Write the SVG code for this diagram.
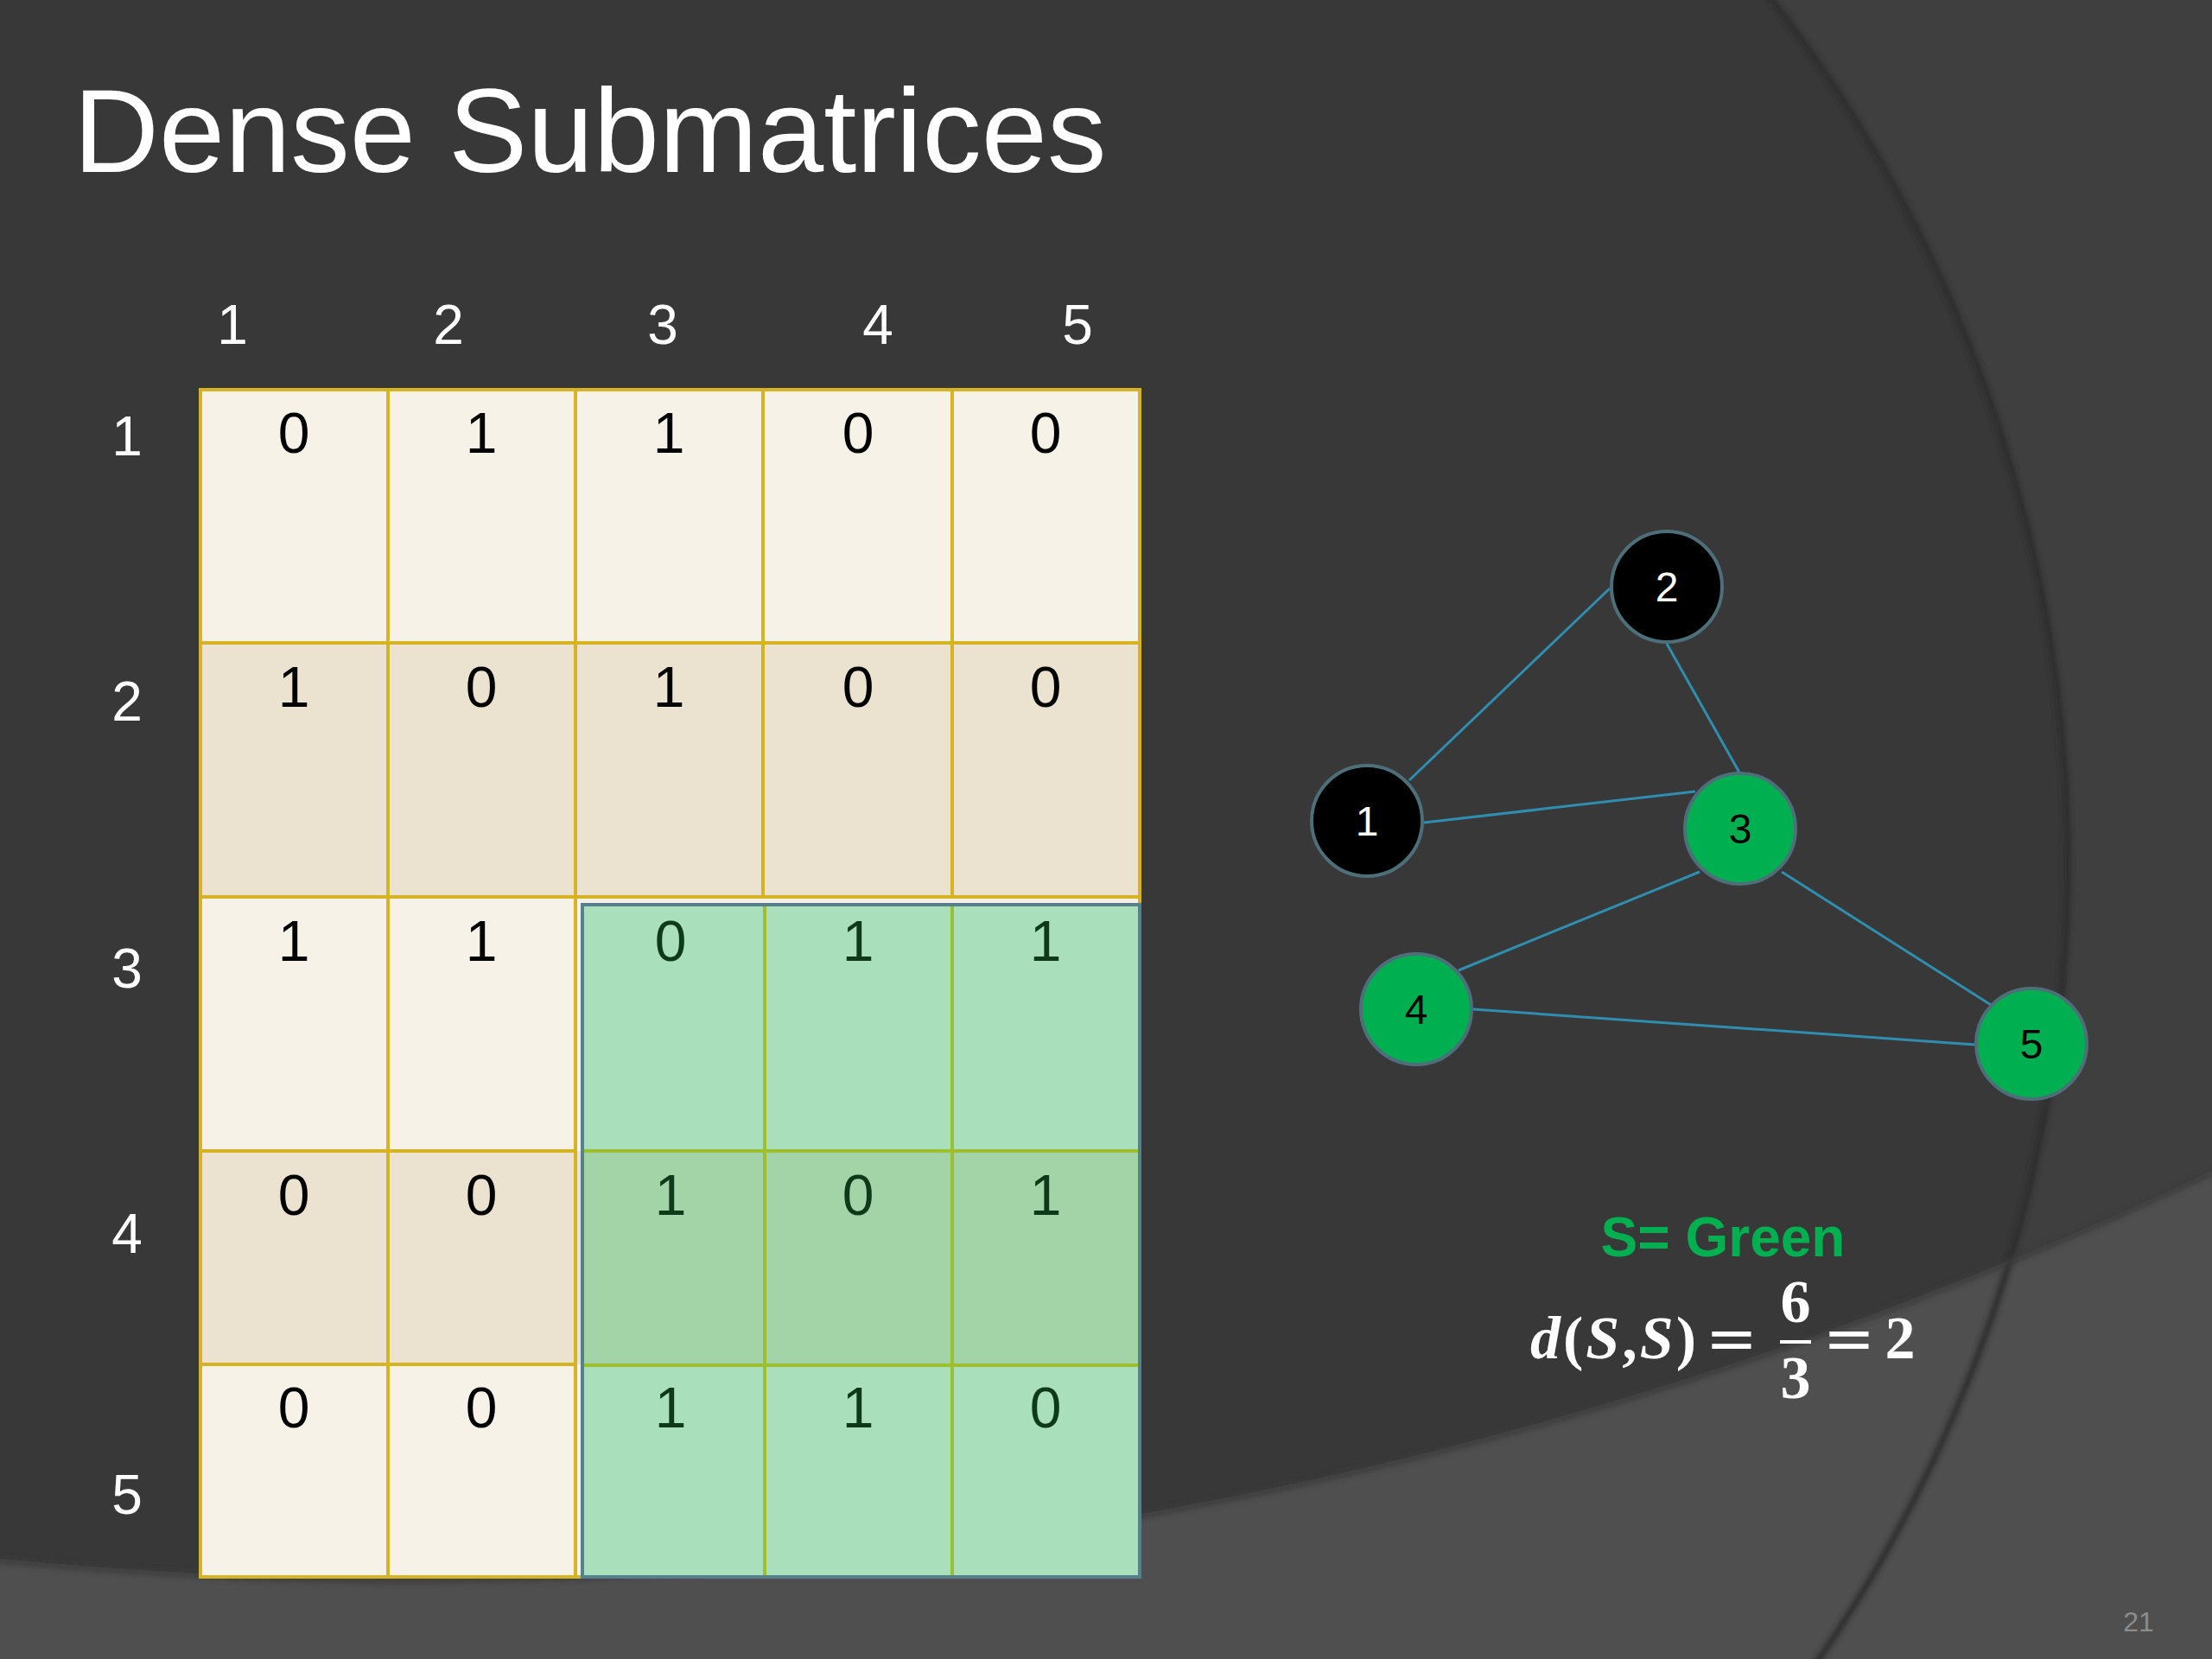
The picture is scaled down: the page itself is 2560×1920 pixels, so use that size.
<svg xmlns="http://www.w3.org/2000/svg" width="2560" height="1920" viewBox="0 0 2560 1920">
<defs>
<style>
.title{font-family:"Liberation Sans",Arial,sans-serif;font-size:137px;fill:#ffffff}
.hdr{font-family:"Liberation Sans",Arial,sans-serif;font-size:64px;fill:#ffffff;text-anchor:middle}
.cell{font-family:"Liberation Sans",Arial,sans-serif;font-size:66px;fill:#000000;text-anchor:middle}
.gcell{font-family:"Liberation Sans",Arial,sans-serif;font-size:66px;fill:#0e3a1a;text-anchor:middle}
.ylA{fill:#f6f2e8}
.ylB{fill:#ebe2cf}
.grA{fill:#aadfbb}
.grB{fill:#a3d4a8}
.node circle{stroke:#4d6f79;stroke-width:4}
.nb{fill:#000000}
.ng{fill:#00b050}
.nlab{font-family:"Liberation Sans",Arial,sans-serif;font-size:48px;text-anchor:middle}
.edge{stroke:#2f8eb0;stroke-width:3;fill:none}
.math{font-family:"Liberation Serif","Times New Roman",serif;font-size:70px;fill:#ffffff;font-weight:bold}
.eq{font-family:"DejaVu Serif","Liberation Serif",serif;font-size:72px;fill:#ffffff;text-anchor:middle}
</style>
<filter id="blur" x="-5%" y="-5%" width="110%" height="110%"><feGaussianBlur stdDeviation="3"/></filter>
</defs>

<g id="background">
<rect x="0" y="0" width="2560" height="1920" fill="#3f3f3f"/>
<circle cx="769" cy="997" r="1621" fill="#383838"/>
<path d="M0 0H2560V1920H0Z M472 1827 A4851 4851 0 1 0 472 -7875 A4851 4851 0 1 0 472 1827Z" fill="#4f4f4f" fill-rule="evenodd"/>
<circle cx="769" cy="997" r="1624" fill="none" stroke="#2c2c2c" stroke-width="7" filter="url(#blur)"/>
<circle cx="472" cy="-3024" r="4853" fill="none" stroke="#3a3a3a" stroke-width="6" filter="url(#blur)"/>
</g>

<text id="title" class="title" x="85" y="199">Dense Submatrices</text>

<g id="col-headers">
<text class="hdr" x="269" y="398">1</text>
<text class="hdr" x="519" y="398">2</text>
<text class="hdr" x="767" y="398">3</text>
<text class="hdr" x="1016" y="398">4</text>
<text class="hdr" x="1247" y="398">5</text>
</g>
<g id="row-headers">
<text class="hdr" x="147" y="527">1</text>
<text class="hdr" x="147" y="834">2</text>
<text class="hdr" x="147" y="1143">3</text>
<text class="hdr" x="147" y="1450">4</text>
<text class="hdr" x="147" y="1752">5</text>
</g>

<g id="matrix">
<rect class="ylA" x="232" y="451" width="1087" height="293"/>
<rect class="ylB" x="232" y="744" width="1087" height="294"/>
<rect class="ylA" x="232" y="1038" width="1087" height="294"/>
<rect class="ylB" x="232" y="1332" width="1087" height="247"/>
<rect class="ylA" x="232" y="1579" width="1087" height="246"/>
<g stroke="#d6b323" stroke-width="4" fill="none">
<rect x="232" y="451" width="1087" height="1374"/>
<line x1="449" y1="451" x2="449" y2="1825"/>
<line x1="666" y1="451" x2="666" y2="1825"/>
<line x1="883" y1="451" x2="883" y2="1038"/>
<line x1="1102" y1="451" x2="1102" y2="1038"/>
<line x1="232" y1="744" x2="1319" y2="744"/>
<line x1="232" y1="1038" x2="1319" y2="1038"/>
<line x1="232" y1="1332" x2="666" y2="1332"/>
<line x1="232" y1="1579" x2="666" y2="1579"/>
</g>
<g id="submatrix">
<rect class="grA" x="674" y="1047" width="645" height="285"/>
<rect class="grB" x="674" y="1332" width="645" height="248"/>
<rect class="grA" x="674" y="1580" width="645" height="245"/>
<g stroke="#9cbf30" stroke-width="4">
<line x1="885" y1="1047" x2="885" y2="1825"/>
<line x1="1102" y1="1047" x2="1102" y2="1825"/>
<line x1="674" y1="1332" x2="1319" y2="1332"/>
<line x1="674" y1="1580" x2="1319" y2="1580"/>
</g>
<rect x="674" y="1047" width="645" height="778" fill="none" stroke="#56808c" stroke-width="4"/>
</g>
<g id="values">
<text class="cell" x="340" y="524">0</text>
<text class="cell" x="557" y="524">1</text>
<text class="cell" x="774" y="524">1</text>
<text class="cell" x="993" y="524">0</text>
<text class="cell" x="1210" y="524">0</text>
<text class="cell" x="340" y="818">1</text>
<text class="cell" x="557" y="818">0</text>
<text class="cell" x="774" y="818">1</text>
<text class="cell" x="993" y="818">0</text>
<text class="cell" x="1210" y="818">0</text>
<text class="cell" x="340" y="1112">1</text>
<text class="cell" x="557" y="1112">1</text>
<text class="gcell" x="776" y="1112">0</text>
<text class="gcell" x="993" y="1112">1</text>
<text class="gcell" x="1210" y="1112">1</text>
<text class="cell" x="340" y="1406">0</text>
<text class="cell" x="557" y="1406">0</text>
<text class="gcell" x="776" y="1406">1</text>
<text class="gcell" x="993" y="1406">0</text>
<text class="gcell" x="1210" y="1406">1</text>
<text class="cell" x="340" y="1652">0</text>
<text class="cell" x="557" y="1652">0</text>
<text class="gcell" x="776" y="1652">1</text>
<text class="gcell" x="993" y="1652">1</text>
<text class="gcell" x="1210" y="1652">0</text>
</g>
</g>

<g id="connectors">
<line class="edge" x1="1631" y1="903" x2="1863" y2="681"/>
<line class="edge" x1="1929" y1="745" x2="2013" y2="894"/>
<line class="edge" x1="1648" y1="952" x2="1962" y2="916"/>
<line class="edge" x1="1967" y1="1009" x2="1688" y2="1123"/>
<line class="edge" x1="2062" y1="1009" x2="2304" y2="1163"/>
<line class="edge" x1="1705" y1="1168" x2="2285" y2="1209"/>
</g>

<g id="node1" class="node"><circle class="nb" cx="1582" cy="950" r="64"/><text class="nlab" x="1582" y="967" fill="#ffffff">1</text></g>
<g id="node2" class="node"><circle class="nb" cx="1929" cy="679" r="64"/><text class="nlab" x="1929" y="696" fill="#ffffff">2</text></g>
<g id="node3" class="node"><circle class="ng" cx="2014" cy="959" r="64"/><text class="nlab" x="2014" y="976" fill="#000000">3</text></g>
<g id="node4" class="node"><circle class="ng" cx="1639" cy="1168" r="64"/><text class="nlab" x="1639" y="1185" fill="#000000">4</text></g>
<g id="node5" class="node"><circle class="ng" cx="2351" cy="1208" r="64"/><text class="nlab" x="2351" y="1225" fill="#000000">5</text></g>

<text id="s-label" x="1994" y="1454" text-anchor="middle" font-family="'Liberation Sans',Arial,sans-serif" font-size="64" font-weight="bold" fill="#00b050">S= Green</text>

<g id="formula">
<text class="math" x="1771" y="1572" letter-spacing="3"><tspan font-style="italic">d</tspan>(<tspan font-style="italic">S</tspan>,<tspan font-style="italic">S</tspan>)</text>
<text class="eq" x="2004" y="1574">=</text>
<text class="math" x="2078" y="1530" text-anchor="middle">6</text>
<line x1="2060" y1="1553" x2="2096" y2="1553" stroke="#ffffff" stroke-width="4"/>
<text class="math" x="2078" y="1618" text-anchor="middle">3</text>
<text class="eq" x="2140" y="1574">=</text>
<text class="math" x="2199" y="1572" text-anchor="middle">2</text>
</g>

<text id="page-number" x="2475" y="1888" text-anchor="middle" font-family="'Liberation Sans',Arial,sans-serif" font-size="32" fill="#8c8c8c">21</text>
</svg>
